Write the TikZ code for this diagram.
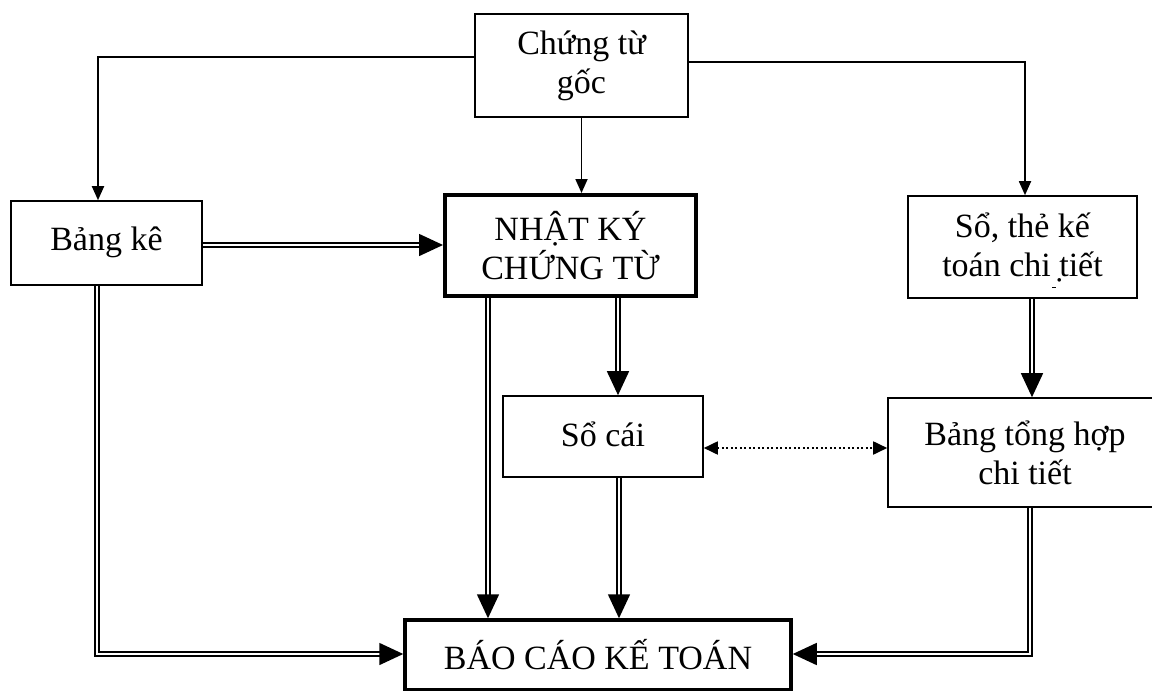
\documentclass[tikz,border=0pt]{standalone}
\usepackage{fontspec}
\setmainfont{Liberation Serif}
\usetikzlibrary{arrows.meta,calc}
\begin{document}
\begin{tikzpicture}[x=1pt,y=-1pt,
  box/.style={draw, line width=1.6pt, rectangle, inner sep=0pt, align=center,
              font=\fontsize{34}{39}\selectfont},
  heavybox/.style={box, line width=4pt},
  single/.style={line width=1.8pt, -{Triangle[length=14pt,width=12pt]}},
  twin/.style={double, double distance=2.8pt, line width=1.5pt,
               -{Triangle[length=24pt,width=22pt]}},
  dotline/.style={line width=1.8pt, dash pattern=on 1.8pt off 2.7pt,
               {Triangle[length=14pt,width=13pt]}-{Triangle[length=14pt,width=13pt]}}
]
\useasboundingbox (0,0) rectangle (1152,691);

% boxes
\node[box, minimum width=213pt, minimum height=103pt] (goc) at (581.5,65.5) {Chứng từ\\gốc};
\node[box, minimum width=191pt, minimum height=84pt] (bangke) at (106.5,243) {\raisebox{8pt}{Bảng kê}};
\node[heavybox, minimum width=251pt, minimum height=101pt] (nkct) at (570.5,245.5) {NHẬT KÝ\\CHỨNG TỪ};
\node[box, minimum width=229pt, minimum height=102pt] (sothe) at (1022.5,247) {Sổ, thẻ kế\\toán chi ̣tiết};
\node[box, minimum width=200pt, minimum height=81pt] (socai) at (603,436.5) {\raisebox{5pt}{Sổ cái}};
\node[box, minimum width=274pt, minimum height=109pt] (tonghop) at (1025,452.5) {Bảng tổng hợp\\chi tiết};
\node[heavybox, line width=3.5pt, minimum width=386pt, minimum height=70pt] (bckt) at (598,655) {BÁO CÁO KẾ TOÁN};

% stray mark under the detail-ledger text
\draw[line width=1pt] (1052,287) -- (1056,287);

% source documents feed
\draw[single] (goc.west |- 0,57) -| (98,0 |- bangke.north);
\draw[single] (goc.east |- 0,62) -| (1025,0 |- sothe.north);
\draw[single] (goc.south) -- (goc.south |- nkct.north);

% posting flows
\draw[twin] (bangke.east |- 0,245) -- (nkct.west |- 0,245);
\draw[twin] (618,0 |- nkct.south) -- (618,0 |- socai.north);
\draw[twin] (488,0 |- nkct.south) -- (488,0 |- bckt.north);
\draw[twin] (619,0 |- socai.south) -- (619,0 |- bckt.north);
\draw[twin] (1032,0 |- sothe.south) -- (1032,0 |- tonghop.north);
\draw[twin] (1030,0 |- tonghop.south) |- (bckt.east |- 0,654);
\draw[twin] (97,0 |- bangke.south) |- (bckt.west |- 0,654);

% reconciliation
\draw[dotline] (socai.east |- 0,448) -- (tonghop.west |- 0,448);
\end{tikzpicture}
\end{document}
